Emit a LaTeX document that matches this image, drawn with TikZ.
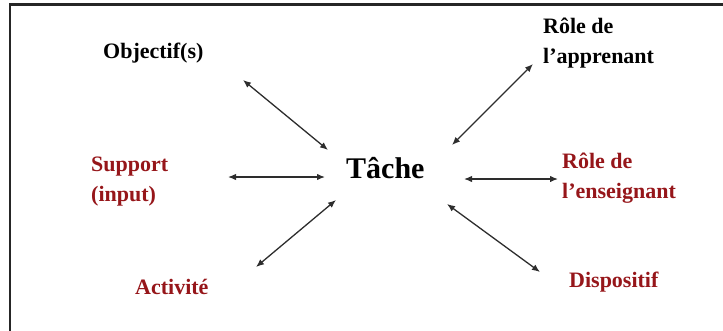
\documentclass[tikz,border=0pt]{standalone}
\usepackage{fontspec}
\setmainfont{Liberation Serif}
\usetikzlibrary{arrows.meta}
\definecolor{labred}{RGB}{150,22,26}
\definecolor{linegray}{RGB}{45,45,45}
\tikzset{
  lbl/.style={inner sep=0pt, anchor=base west, align=left, font=\fontsize{22}{30}\selectfont\bfseries},
  redlbl/.style={lbl, text=labred},
  link/.style={draw=linegray, line width=1.3pt, {Latex[length=8pt,width=6.5pt]}-{Latex[length=8pt,width=6.5pt]}},
  frameline/.style={draw=black!85, line width=2.2pt}
}
\begin{document}
\begin{tikzpicture}[x=1pt,y=-1pt]
\useasboundingbox (0,0) rectangle (723,330);
\draw[frameline] (10,331) -- (10,4.5) -- (724,4.5);
% labels (base anchor = last line's baseline)
\node[lbl] (obj) at (103,58) {Objectif(s)};
\node[lbl] (app) at (543,63) {Rôle de\\l’apprenant};
\node[redlbl] (sup) at (91,201) {Support\\(input)};
\node[lbl, font=\fontsize{30}{34}\selectfont\bfseries] (tache) at (346,178) {Tâche};
\node[redlbl] (ens) at (562,198) {Rôle de\\l’enseignant};
\node[redlbl] (act) at (135,294) {Activité};
\node[redlbl] (dis) at (569,287) {Dispositif};
% connector ends
\coordinate (objA) at (243,80);   \coordinate (objB) at (328,150);
\coordinate (supA) at (228,177);  \coordinate (supB) at (325,177);
\coordinate (actA) at (256,267);  \coordinate (actB) at (336,200);
\coordinate (appA) at (533,64);   \coordinate (appB) at (452,145);
\coordinate (ensA) at (558,179);  \coordinate (ensB) at (464,179);
\coordinate (disA) at (540,272);  \coordinate (disB) at (447,204);
\draw[link] (objA) -- (objB);
\draw[link] (supA) -- (supB);
\draw[link] (actA) -- (actB);
\draw[link] (appA) -- (appB);
\draw[link] (ensA) -- (ensB);
\draw[link] (disA) -- (disB);
\end{tikzpicture}
\end{document}
